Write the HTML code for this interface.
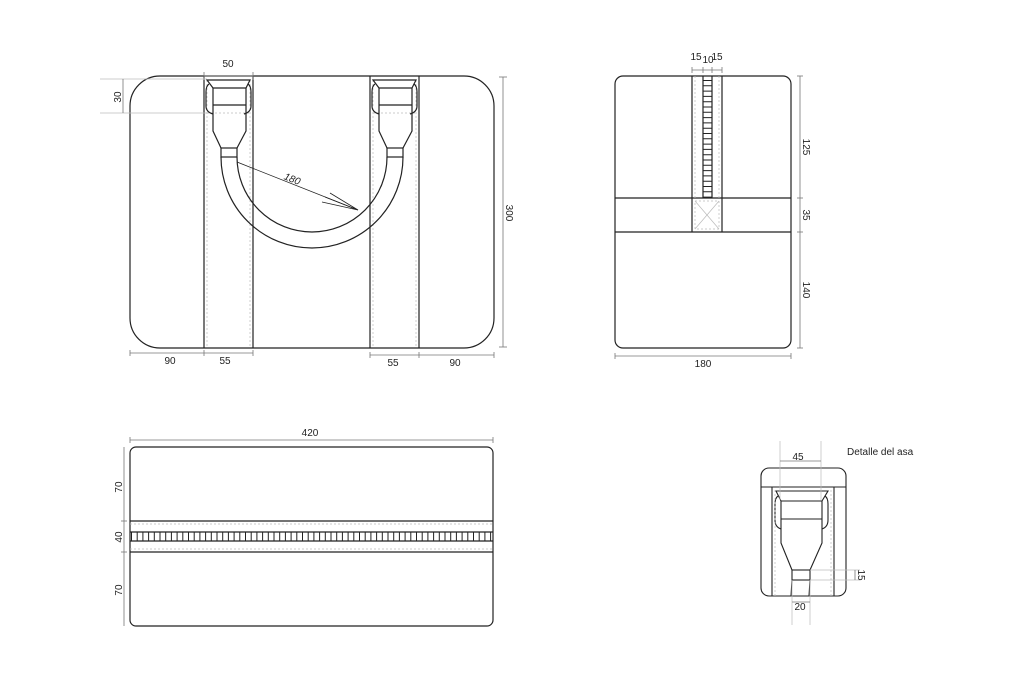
<!DOCTYPE html>
<html><head><meta charset="utf-8"><style>
html,body{margin:0;padding:0;background:#fff}
svg{display:block}
text{font-family:"Liberation Sans",sans-serif;font-size:10px;fill:#222}
</style></head><body>
<svg width="1024" height="697" viewBox="0 0 1024 697" xmlns="http://www.w3.org/2000/svg">
<g fill="none" stroke="#222" stroke-width="1.2">
<!-- FRONT VIEW -->
<rect x="130" y="76" width="364" height="272" rx="30"/>
<line x1="204" y1="76" x2="204" y2="348"/><line x1="253" y1="76" x2="253" y2="348"/>
<line x1="370" y1="76" x2="370" y2="348"/><line x1="419" y1="76" x2="419" y2="348"/>
<g stroke="#bbb" stroke-width="0.7" stroke-dasharray="2 2">
<line x1="207" y1="80" x2="207" y2="348"/><line x1="250" y1="80" x2="250" y2="348"/>
<line x1="373" y1="80" x2="373" y2="348"/><line x1="416" y1="80" x2="416" y2="348"/>
<line x1="207" y1="113" x2="250" y2="113"/><line x1="373" y1="113" x2="416" y2="113"/>
</g>
<g id="hb">
<path d="M207 80 H250 L246 88 H213 Z"/>
<line x1="213" y1="105" x2="246" y2="105"/>
<path d="M213 88 V131 L221 148 M246 88 V131 L237 148"/>
<path d="M209 84 Q206 86 206 92 V106 Q206 112 213 114"/>
<path d="M248 84 Q251 86 251 92 V106 Q251 112 244 114"/>
<rect x="221" y="148" width="16" height="9"/>
</g>
<use href="#hb" transform="translate(166,0)"/>
<path d="M221 157 A91 91 0 0 0 403 157"/>
<path d="M237 157 A75 75 0 0 0 387 157"/>
<line x1="237" y1="162" x2="358" y2="210" stroke-width="0.8"/>
<path d="M358 210 L325 197 M358 210 L322 202 M358 210 L330 193" stroke-width="0.8"/>
</g>
<g stroke="#777" stroke-width="0.8" fill="none">
<line x1="204" y1="76" x2="253" y2="76"/><line x1="204" y1="72" x2="204" y2="80"/><line x1="253" y1="72" x2="253" y2="80"/>
<line x1="100" y1="79" x2="207" y2="79" stroke="#bbb"/><line x1="100" y1="113" x2="207" y2="113" stroke="#bbb"/>
<line x1="123" y1="79" x2="123" y2="113"/>
<line x1="503" y1="77" x2="503" y2="347"/><line x1="499" y1="77" x2="507" y2="77"/><line x1="499" y1="347" x2="507" y2="347"/>
<line x1="130" y1="353" x2="253" y2="353"/><line x1="130" y1="350" x2="130" y2="356"/><line x1="204" y1="350" x2="204" y2="356"/><line x1="253" y1="350" x2="253" y2="356"/>
<line x1="370" y1="355" x2="494" y2="355"/><line x1="370" y1="352" x2="370" y2="358"/><line x1="419" y1="352" x2="419" y2="358"/><line x1="494" y1="352" x2="494" y2="358"/>
</g>
<text x="228" y="67" text-anchor="middle">50</text>
<text transform="translate(121,97) rotate(-90)" text-anchor="middle">30</text>
<text transform="translate(506,213) rotate(90)" text-anchor="middle">300</text>
<text x="170" y="364" text-anchor="middle">90</text>
<text x="225" y="364" text-anchor="middle">55</text>
<text x="393" y="366" text-anchor="middle">55</text>
<text x="455" y="366" text-anchor="middle">90</text>
<text transform="translate(291,182) rotate(22)" text-anchor="middle" font-style="italic">180</text>

<!-- SIDE VIEW -->
<g fill="none" stroke="#222" stroke-width="1.2">
<rect x="615" y="76" width="176" height="272" rx="8"/>
<line x1="615" y1="198" x2="791" y2="198"/><line x1="615" y1="232" x2="791" y2="232"/>
<line x1="692" y1="76" x2="692" y2="232"/><line x1="722" y1="76" x2="722" y2="232"/>
<line x1="703" y1="76" x2="703" y2="198"/><line x1="712" y1="76" x2="712" y2="198"/>
<line x1="707.5" y1="80" x2="707.5" y2="198" stroke-width="9" stroke-dasharray="1 4.3"/>
</g>
<g stroke="#bbb" stroke-width="0.7" fill="none">
<line x1="695" y1="76" x2="695" y2="198" stroke-dasharray="2 2"/><line x1="719" y1="76" x2="719" y2="198" stroke-dasharray="2 2"/>
<rect x="695" y="201" width="24" height="28" stroke-dasharray="2 2"/>
<line x1="695" y1="201" x2="719" y2="229"/><line x1="719" y1="201" x2="695" y2="229"/>
</g>
<g stroke="#777" stroke-width="0.8">
<line x1="692" y1="70" x2="722" y2="70"/><line x1="692" y1="67" x2="692" y2="73"/><line x1="703" y1="67" x2="703" y2="73"/><line x1="712" y1="67" x2="712" y2="73"/><line x1="722" y1="67" x2="722" y2="73"/>
<line x1="800" y1="76" x2="800" y2="348"/><line x1="797" y1="76" x2="803" y2="76"/><line x1="797" y1="198" x2="803" y2="198"/><line x1="797" y1="232" x2="803" y2="232"/><line x1="797" y1="348" x2="803" y2="348"/>
<line x1="615" y1="356" x2="791" y2="356"/><line x1="615" y1="353" x2="615" y2="359"/><line x1="791" y1="353" x2="791" y2="359"/>
</g>
<text x="696" y="60" text-anchor="middle" font-size="8">15</text>
<text x="708" y="63" text-anchor="middle" font-size="8">10</text>
<text x="717" y="60" text-anchor="middle" font-size="8">15</text>
<text transform="translate(803,147) rotate(90)" text-anchor="middle">125</text>
<text transform="translate(803,215) rotate(90)" text-anchor="middle">35</text>
<text transform="translate(803,290) rotate(90)" text-anchor="middle">140</text>
<text x="703" y="367" text-anchor="middle">180</text>

<!-- TOP VIEW -->
<g fill="none" stroke="#222" stroke-width="1.2">
<rect x="130" y="447" width="363" height="179" rx="6"/>
<line x1="130" y1="521" x2="493" y2="521"/><line x1="130" y1="552" x2="493" y2="552"/>
<line x1="130" y1="532" x2="493" y2="532"/><line x1="130" y1="541" x2="493" y2="541"/>
<line x1="131" y1="536.5" x2="493" y2="536.5" stroke-width="9" stroke-dasharray="1 4.7"/>
</g>
<g stroke="#bbb" stroke-width="0.7" stroke-dasharray="2 2">
<line x1="130" y1="524" x2="493" y2="524"/><line x1="130" y1="549" x2="493" y2="549"/>
</g>
<g stroke="#777" stroke-width="0.8">
<line x1="130" y1="440" x2="493" y2="440"/><line x1="130" y1="437" x2="130" y2="443"/><line x1="493" y1="437" x2="493" y2="443"/>
<line x1="124" y1="447" x2="124" y2="626"/><line x1="121" y1="521" x2="127" y2="521"/><line x1="121" y1="552" x2="127" y2="552"/>
</g>
<text x="310" y="436" text-anchor="middle">420</text>
<text transform="translate(122,487) rotate(-90)" text-anchor="middle">70</text>
<text transform="translate(122,537) rotate(-90)" text-anchor="middle">40</text>
<text transform="translate(122,590) rotate(-90)" text-anchor="middle">70</text>

<!-- DETAIL -->
<g fill="none" stroke="#222" stroke-width="1.1">
<rect x="761" y="468" width="85" height="128" rx="8"/>
<line x1="761" y1="487" x2="846" y2="487"/>
<line x1="772" y1="487" x2="772" y2="596"/><line x1="834" y1="487" x2="834" y2="596"/>
<path d="M776 491 H828 L822 501 H781 Z"/>
<line x1="781" y1="519" x2="822" y2="519"/>
<path d="M781 501 V543 L792 570 M822 501 V543 L810 570"/>
<path d="M778 496 Q775 498 775 504 V520 Q775 527 781 529"/>
<path d="M825 496 Q828 498 828 504 V520 Q828 527 822 529"/>
<rect x="792" y="570" width="18" height="10"/>
<path d="M792 580 L791 596 M810 580 L809 596"/>
</g>
<g stroke="#bbb" stroke-width="0.7">
<line x1="775" y1="490" x2="775" y2="596" stroke-dasharray="2 2"/><line x1="831" y1="490" x2="831" y2="596" stroke-dasharray="2 2"/>
<line x1="780" y1="441" x2="780" y2="500"/><line x1="821" y1="441" x2="821" y2="500"/>
<line x1="810" y1="570" x2="860" y2="570"/><line x1="810" y1="580" x2="860" y2="580"/>
<line x1="792" y1="580" x2="792" y2="625"/><line x1="810" y1="580" x2="810" y2="625"/>
</g>
<g stroke="#777" stroke-width="0.8">
<line x1="780" y1="461" x2="821" y2="461"/>
<line x1="855" y1="570" x2="855" y2="580"/>
<line x1="792" y1="602" x2="810" y2="602"/>
</g>
<text x="798" y="460" text-anchor="middle" font-size="9">45</text>
<text transform="translate(858,575) rotate(90)" text-anchor="middle" font-size="9">15</text>
<text x="800" y="610" text-anchor="middle" font-size="9">20</text>
<text x="847" y="455" font-size="11.5">Detalle del asa</text>
</svg>
</body></html>
